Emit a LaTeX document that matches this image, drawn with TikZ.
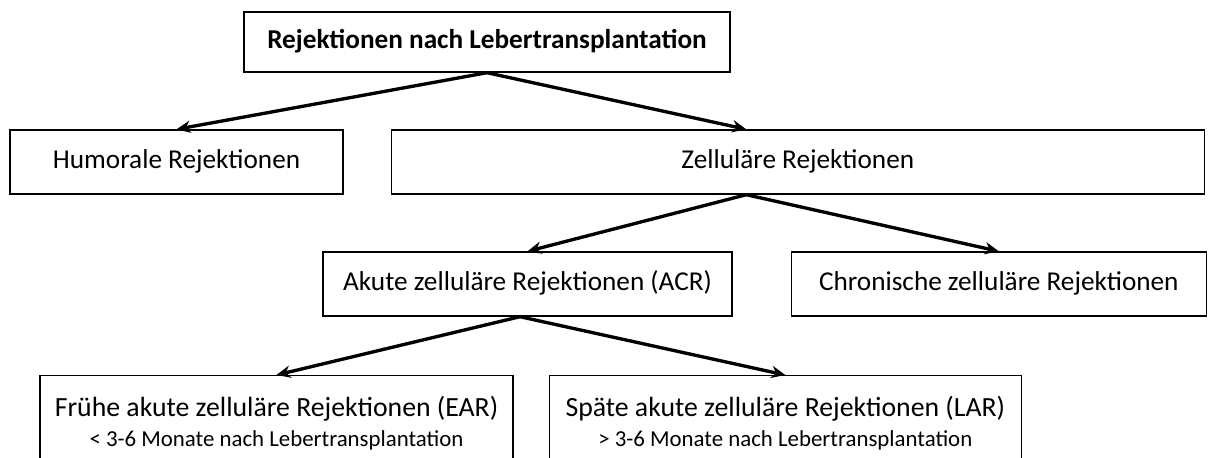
\documentclass[tikz,border=0pt]{standalone}
\usepackage{fontspec}
\setmainfont{Carlito}
\usetikzlibrary{arrows.meta,positioning,calc}

\begin{document}
\begin{tikzpicture}[
  x=0.02cm, y=-0.02cm,
  box/.style={draw, line width=0.8pt, minimum height=1.28cm,
              font=\fontsize{15.5}{18}\selectfont, align=center, inner sep=2pt},
  onebox/.style={box, text height=1.8ex, text depth=0.25ex},
  subbox/.style={box, minimum height=1.9cm, anchor=north},
  arr/.style={-{Stealth[length=8pt,width=7pt]}, line width=1.9pt}
]
  \useasboundingbox (0,0) rectangle (1214,457);

  \node[onebox, minimum width=9.72cm, minimum height=1.2cm] (rej) at (487,42)
    {\textbf{Rejektionen nach Lebertransplantation}};

  \node[onebox, minimum width=6.66cm] (hum) at (176.5,162) {Humorale Rejektionen};
  \node[onebox, minimum width=16.26cm, right=0.94cm of hum] (zel) {Zelluläre Rejektionen};

  \node[onebox, minimum width=8.18cm] (acr) at (527.5,284) {Akute zelluläre Rejektionen (ACR)};
  \node[onebox, minimum width=8.3cm, right=1.16cm of acr] (chr) {Chronische zelluläre Rejektionen};

  % bottom boxes run off the page
  \node[subbox, minimum width=9.46cm] (ear) at (276.5,375)
    {\fontsize{15.8}{18}\selectfont Frühe akute zelluläre Rejektionen (EAR)\\[-1pt]
     {\fontsize{13}{16}\selectfont < 3-6 Monate nach Lebertransplantation}};
  \node[subbox, minimum width=9.44cm, right=0.7cm of ear.north east, anchor=north west] (lar)
    {\fontsize{15.8}{18}\selectfont Späte akute zelluläre Rejektionen (LAR)\\[-1pt]
     {\fontsize{13}{16}\selectfont > 3-6 Monate nach Lebertransplantation}};

  \coordinate (zeltop) at ([xshift=-1.03cm]zel.north);
  \coordinate (zelbot) at ([xshift=-1.03cm]zel.south);

  \draw[arr] (rej.south) -- (hum.north);
  \draw[arr] (rej.south) -- (zeltop);
  \draw[arr] (zelbot) -- (acr.north);
  \draw[arr] (zelbot) -- (chr.north);
  \draw[arr] ([xshift=-0.15cm]acr.south) -- (ear.north);
  \draw[arr] ([xshift=-0.15cm]acr.south) -- (lar.north);
\end{tikzpicture}
\end{document}
